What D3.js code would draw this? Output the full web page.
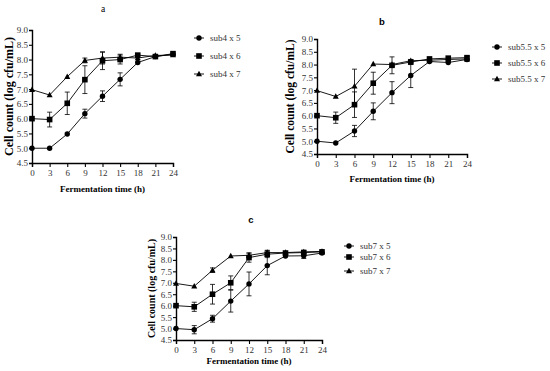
<!DOCTYPE html>
<html>
<head>
<meta charset="utf-8">
<script src="https://cdn.jsdelivr.net/npm/d3@7"></script>
<style>
  body { margin: 0; background: #fff; }
  svg { display: block; }
</style>
</head>
<body>
<svg width="550" height="371"></svg>
<script>
// time points (h)
const hours = [0, 3, 6, 9, 12, 15, 18, 21, 24];
const yTicks = [4.5, 5.0, 5.5, 6.0, 6.5, 7.0, 7.5, 8.0, 8.5, 9.0];

// panel a
const aNames = ["sub4 x 5", "sub4 x 6", "sub4 x 7"];
const aX5 = [5.0, 5.0, 5.48, 6.17, 6.76, 7.33, 7.9, 8.1, 8.18];
const aX5err = [0.02, 0.03, 0.06, 0.15, 0.18, 0.22, 0.05, 0.05, 0.05];
const aX6 = [6.0, 5.97, 6.52, 7.32, 7.96, 8.0, 8.15, 8.1, 8.2];
const aX6err = [0.03, 0.25, 0.38, 0.47, 0.3, 0.15, 0.05, 0.05, 0.05];
const aX7 = [6.98, 6.8, 7.42, 7.97, 8.05, 8.08, 8.05, 8.14, 8.15];
const aX7err = [0.02, 0.04, 0.05, 0.08, 0.2, 0.1, 0.05, 0.05, 0.05];

// panel b
const bNames = ["sub5.5 x 5", "sub5.5 x 6", "sub5.5 x 7"];
const bX5 = [5.0, 4.93, 5.4, 6.17, 6.9, 7.57, 8.12, 8.08, 8.2];
const bX5err = [0.03, 0.04, 0.22, 0.33, 0.43, 0.47, 0.05, 0.05, 0.05];
const bX6 = [6.0, 5.92, 6.43, 7.27, 7.97, 8.1, 8.22, 8.25, 8.27];
const bX6err = [0.03, 0.22, 0.5, 0.43, 0.33, 0.1, 0.05, 0.05, 0.05];
const bX7 = [6.98, 6.75, 7.15, 8.02, 8.0, 8.15, 8.17, 8.2, 8.22];
const bX7err = [0.02, 0.05, 0.67, 0.03, 0.03, 0.05, 0.05, 0.05, 0.1];

// panel c
const cNames = ["sub7 x 5", "sub7 x 6", "sub7 x 7"];
const cX5 = [5.0, 4.95, 5.43, 6.2, 6.95, 7.75, 8.17, 8.18, 8.3];
const cX5err = [0.03, 0.18, 0.15, 0.48, 0.52, 0.4, 0.05, 0.12, 0.05];
const cX6 = [6.0, 5.95, 6.5, 7.0, 8.1, 8.25, 8.3, 8.32, 8.35];
const cX6err = [0.03, 0.2, 0.43, 0.3, 0.2, 0.15, 0.05, 0.1, 0.05];
const cX7 = [6.97, 6.85, 7.55, 8.17, 8.2, 8.32, 8.32, 8.35, 8.37];
const cX7err = [0.02, 0.03, 0.1, 0.03, 0.1, 0.1, 0.05, 0.05, 0.05];

const serif = "'Liberation Serif', 'DejaVu Serif', serif";
const svg = d3.select("svg");

function marker(g, shape, cx, cy) {
  if (shape === "circle") {
    g.append("circle").attr("cx", cx).attr("cy", cy).attr("r", 2.7).attr("fill", "#000");
  } else if (shape === "square") {
    g.append("rect").attr("x", cx - 2.8).attr("y", cy - 2.8).attr("width", 5.6).attr("height", 5.6).attr("fill", "#000");
  } else {
    g.append("path").attr("d", `M${cx},${cy - 3.2}L${cx + 3},${cy + 2.2}L${cx - 3},${cy + 2.2}Z`).attr("fill", "#000");
  }
}

function drawPanel(p) {
  const x = d3.scaleLinear().domain([0, 24]).range([p.x0, p.x1]);
  const y = d3.scaleLinear().domain([4.5, 9.0]).range([p.yBot, p.yTop]);
  const g = svg.append("g");

  // title
  g.append("text")
    .attr("x", p.tx).attr("y", p.ty)
    .attr("text-anchor", "middle")
    .attr("font-family", p.titleBold ? "'Liberation Sans', Arial, sans-serif" : serif)
    .attr("font-weight", p.titleBold ? "bold" : "normal")
    .attr("font-size", "9.5px")
    .text(p.title);

  // axes
  const xAxis = g.append("g")
    .attr("transform", `translate(0,${p.yBot})`)
    .call(d3.axisBottom(x).tickValues(hours).tickSize(4).tickPadding(3).tickFormat(d3.format("d")));
  const yAxis = g.append("g")
    .attr("transform", `translate(${p.x0},0)`)
    .call(d3.axisLeft(y).tickValues(yTicks).tickSize(3).tickPadding(1).tickFormat(d3.format(".1f")));
  [xAxis, yAxis].forEach(a => {
    a.select(".domain").attr("stroke-width", 1.4);
    a.selectAll(".tick line").attr("stroke-width", 1.1);
    a.selectAll("text").attr("font-family", serif).attr("font-size", "9px").attr("fill", "#333");
  });

  // axis titles
  g.append("text")
    .attr("x", (p.x0 + p.x1) / 2).attr("y", p.xLabelY)
    .attr("text-anchor", "middle")
    .attr("font-family", serif).attr("font-weight", "bold").attr("font-size", "9px")
    .text("Fermentation time (h)");
  g.append("text")
    .attr("transform", `translate(${p.yLabelX},${(p.yTop + p.yBot) / 2}) rotate(-90)`)
    .attr("text-anchor", "middle")
    .attr("font-family", serif).attr("font-weight", "bold").attr("font-size", p.yLabelSize)
    .text("Cell count (log cfu/mL)");

  const shapes = ["circle", "square", "triangle"];
  const line = d3.line().x((d, i) => x(hours[i])).y(d => y(d));

  p.series.forEach((s, k) => {
    // error bars
    s.vals.forEach((v, i) => {
      const e = s.err[i];
      if (e < 0.08) return;
      const cx = x(hours[i]);
      g.append("line").attr("x1", cx).attr("x2", cx).attr("y1", y(v - e)).attr("y2", y(v + e)).attr("stroke", "#000").attr("stroke-width", 0.8);
      [v - e, v + e].forEach(t => {
        g.append("line").attr("x1", cx - 2.5).attr("x2", cx + 2.5).attr("y1", y(t)).attr("y2", y(t)).attr("stroke", "#000").attr("stroke-width", 0.8);
      });
    });
    g.append("path").datum(s.vals).attr("d", line).attr("fill", "none").attr("stroke", "#000").attr("stroke-width", 0.9);
    s.vals.forEach((v, i) => marker(g, shapes[k], x(hours[i]), y(v)));

    // legend
    const ly = p.legY[k];
    g.append("line").attr("x1", p.legX - 5).attr("x2", p.legX + 5).attr("y1", ly).attr("y2", ly).attr("stroke", "#000").attr("stroke-width", 0.9);
    marker(g, shapes[k], p.legX, ly);
    g.append("text")
      .attr("x", p.legX + 11).attr("y", ly + 3)
      .attr("font-family", serif).attr("font-size", "9px").attr("fill", "#333")
      .text(s.name);
  });
}

drawPanel({
  title: "a", titleBold: false, tx: 103, ty: 12,
  x0: 32, x1: 173, yTop: 30, yBot: 163, xLabelY: 192, yLabelX: 13, yLabelSize: "12px",
  legX: 199, legY: [38, 56, 74],
  series: [
    {name: aNames[0], vals: aX5, err: aX5err},
    {name: aNames[1], vals: aX6, err: aX6err},
    {name: aNames[2], vals: aX7, err: aX7err}
  ]
});

drawPanel({
  title: "b", titleBold: true, tx: 382, ty: 25,
  x0: 317, x1: 467, yTop: 39, yBot: 154, xLabelY: 182, yLabelX: 294, yLabelSize: "11.5px",
  legX: 497, legY: [47, 63, 79],
  series: [
    {name: bNames[0], vals: bX5, err: bX5err},
    {name: bNames[1], vals: bX6, err: bX6err},
    {name: bNames[2], vals: bX7, err: bX7err}
  ]
});

drawPanel({
  title: "c", titleBold: true, tx: 251, ty: 223,
  x0: 176, x1: 322, yTop: 237, yBot: 340, xLabelY: 364, yLabelX: 155, yLabelSize: "10px",
  legX: 349, legY: [246, 257, 271],
  series: [
    {name: cNames[0], vals: cX5, err: cX5err},
    {name: cNames[1], vals: cX6, err: cX6err},
    {name: cNames[2], vals: cX7, err: cX7err}
  ]
});
</script>
</body>
</html>
